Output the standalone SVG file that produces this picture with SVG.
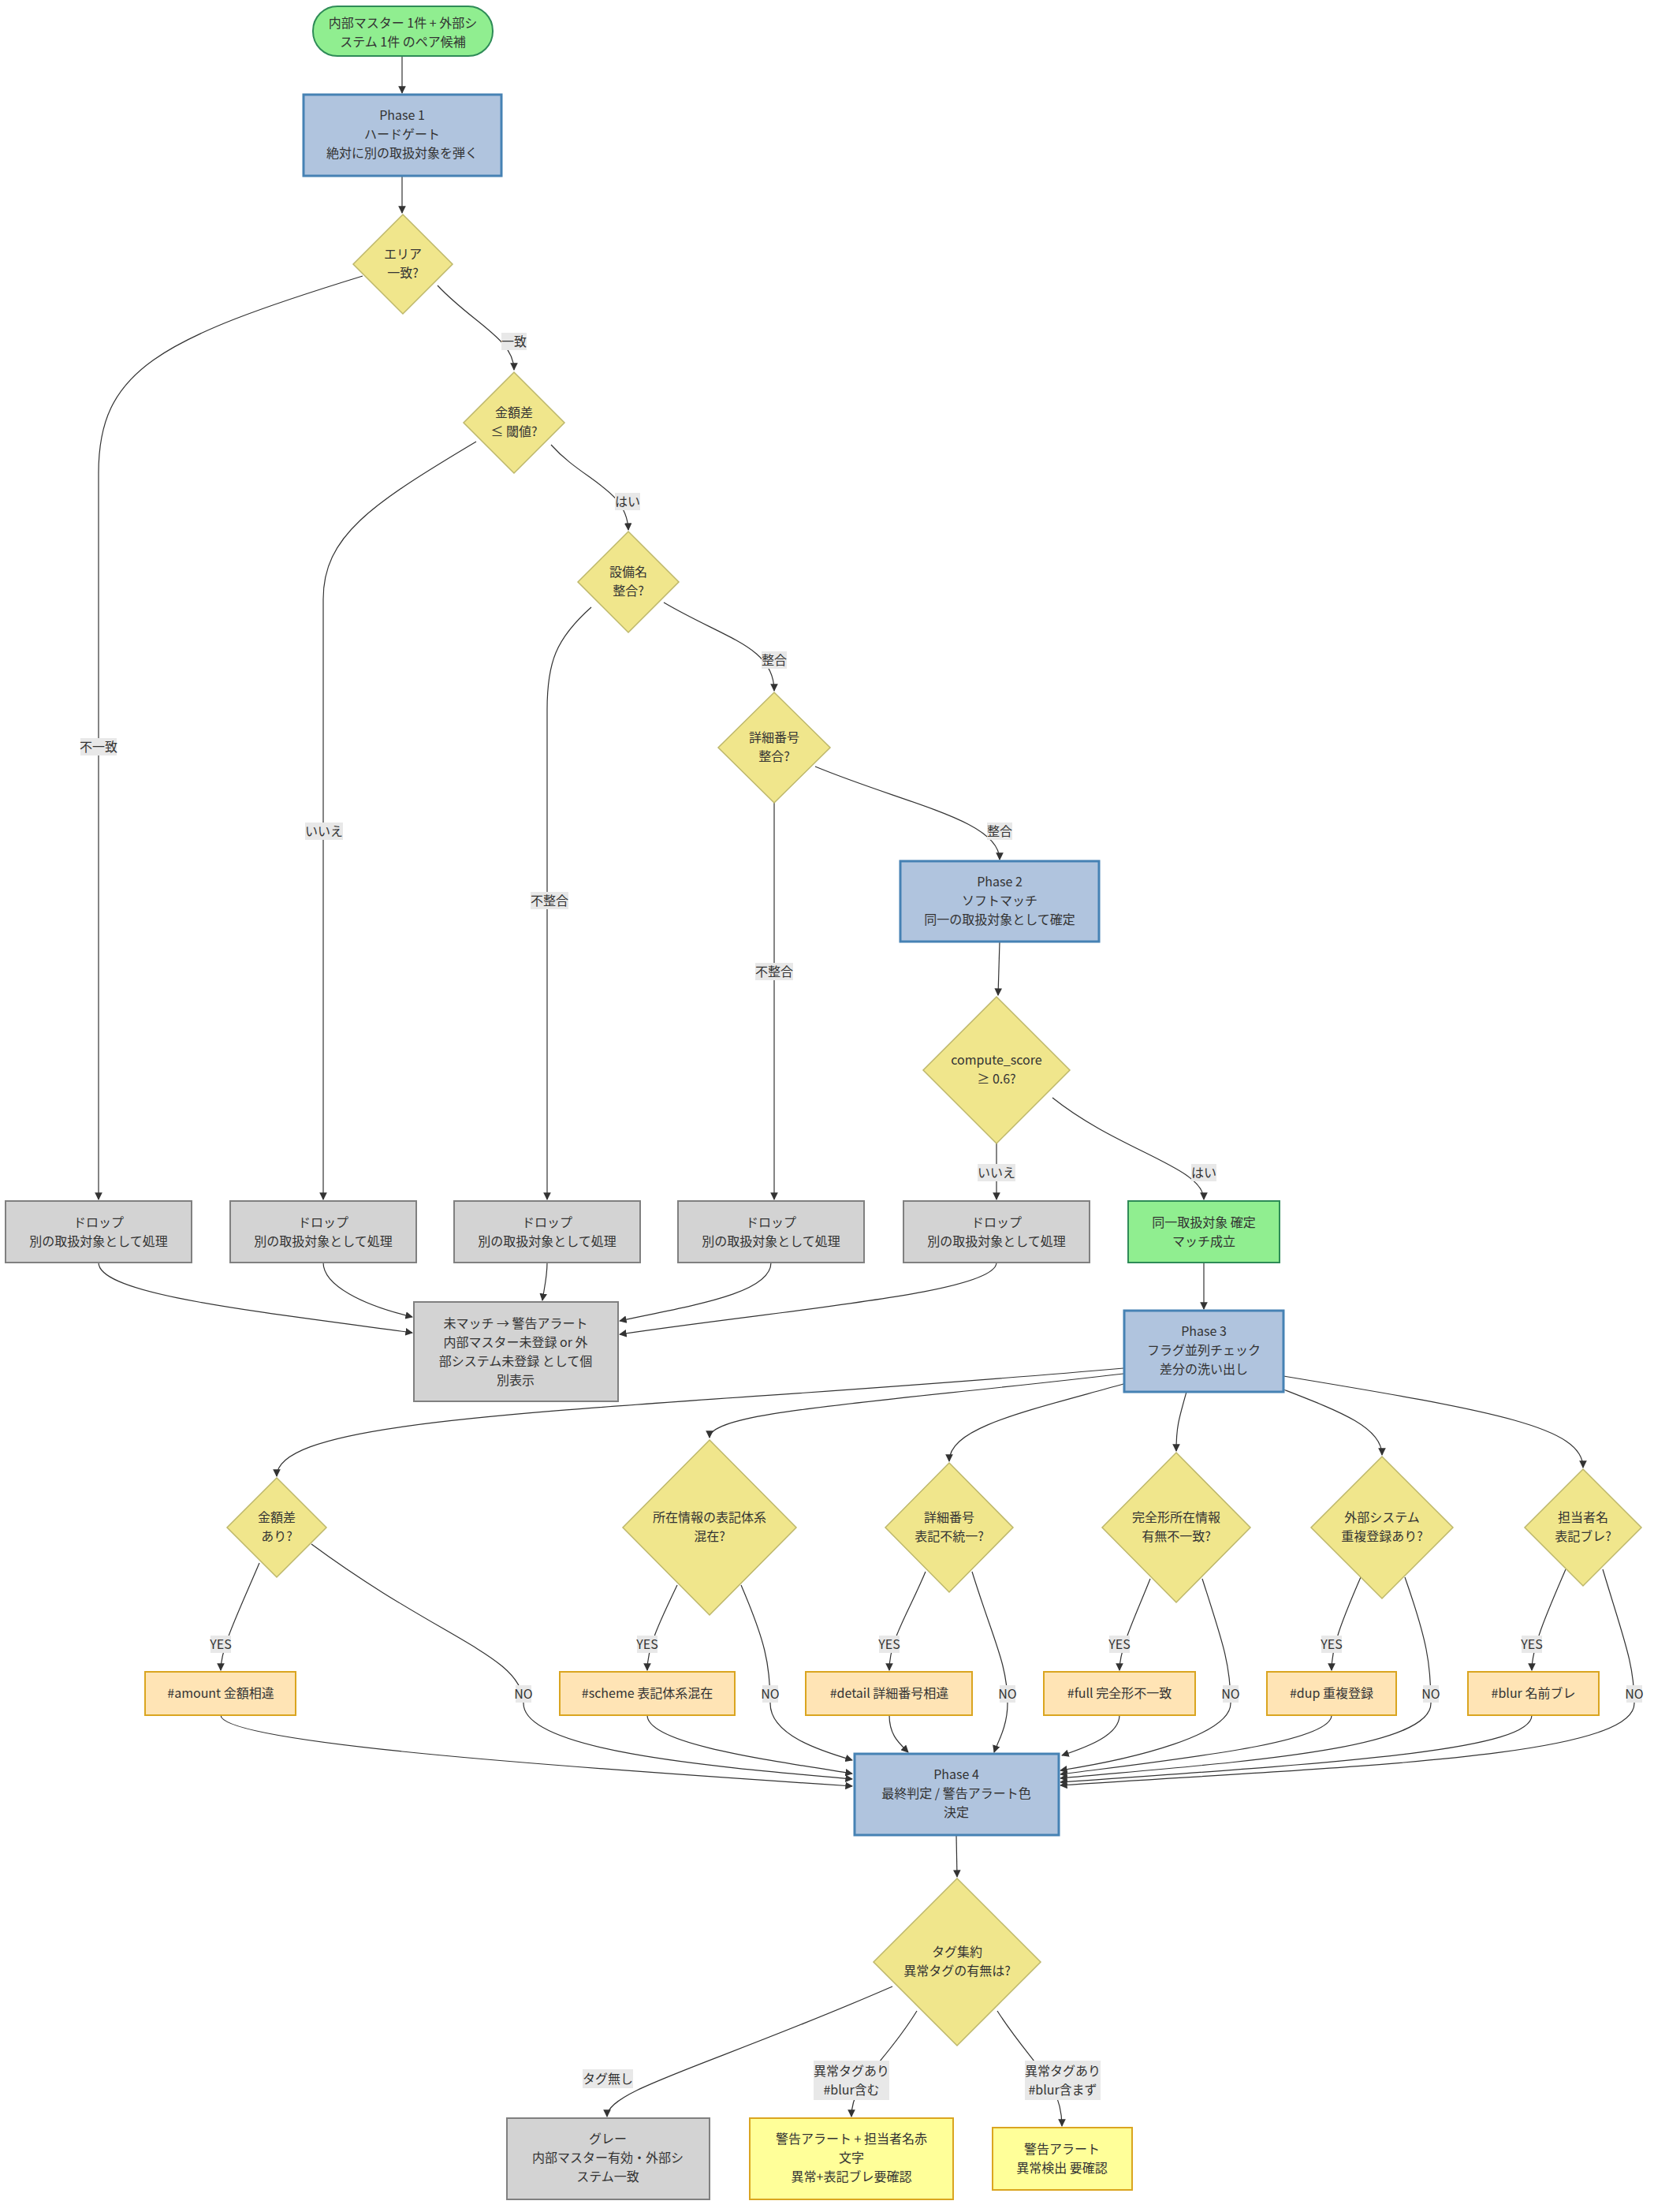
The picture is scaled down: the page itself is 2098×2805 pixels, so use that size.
<svg xmlns="http://www.w3.org/2000/svg" width="2098" height="2805" viewBox="0 0 2098 2805">
<defs>
<marker id="ah" viewBox="0 0 10 10" refX="9" refY="5" markerWidth="8" markerHeight="8" orient="auto-start-reverse"><path d="M0,0 L10,5 L0,10 z" fill="#333"/></marker>
<style>
text{font-family:"Noto Sans CJK JP","Noto Sans",sans-serif;font-size:16px;fill:#333;text-anchor:middle}
.blue{fill:#b0c4de;stroke:#4682b4;stroke-width:3}
.green{fill:#90ee90;stroke:#2e8b57;stroke-width:2}
.dia{fill:#f0e68c;stroke:#bdb76b;stroke-width:1.5}
.gray{fill:#d3d3d3;stroke:#808080;stroke-width:2}
.tag{fill:#ffe4b5;stroke:#daa520;stroke-width:2}
.yel{fill:#ffff99;stroke:#daa520;stroke-width:2}
.e{fill:none;stroke:#333;stroke-width:1.2;marker-end:url(#ah)}
.lb{fill:#e8e8e8}
</style>
</defs>
<g id="edges">
<path class="e" d="M510,72 L510,118"/>
<path class="e" d="M510,223 L510,270"/>
<path class="e" d="M460,350 C200,430 125,470 125,600 L125,1521"/>
<path class="e" d="M555,362 C600,410 652,430 652,469"/>
<path class="e" d="M604,560 C470,640 410,680 410,760 L410,1521"/>
<path class="e" d="M699,564 C740,610 795,620 797,672"/>
<path class="e" d="M750,770 C705,810 694,840 694,900 L694,1521"/>
<path class="e" d="M842,764 C920,810 982,820 982,876"/>
<path class="e" d="M982,1018 L982,1521"/>
<path class="e" d="M1034,972 C1150,1020 1268,1040 1268,1090"/>
<path class="e" d="M1268,1194 L1266,1262"/>
<path class="e" d="M1264,1450 L1264,1521"/>
<path class="e" d="M1335,1392 C1420,1460 1527,1480 1527,1521"/>
<path class="e" d="M125,1601 C125,1640 300,1660 523,1690"/>
<path class="e" d="M410,1601 C410,1630 460,1655 523,1670"/>
<path class="e" d="M694,1601 C694,1620 690,1635 688,1649"/>
<path class="e" d="M978,1601 C978,1640 880,1655 786,1675"/>
<path class="e" d="M1264,1601 C1264,1640 1000,1660 786,1692"/>
<path class="e" d="M1527,1601 L1527,1660"/>
<path class="e" d="M1425,1735 C800,1790 351,1790 351,1872"/>
<path class="e" d="M1425,1742 C1100,1780 900,1790 900,1823"/>
<path class="e" d="M1425,1755 C1300,1790 1204,1810 1204,1853"/>
<path class="e" d="M1505,1765 C1495,1800 1492,1810 1492,1840"/>
<path class="e" d="M1628,1762 C1700,1790 1753,1810 1753,1845"/>
<path class="e" d="M1628,1745 C1900,1790 2008,1810 2008,1861"/>
<path class="e" d="M329,1982 C300,2050 280,2090 280,2118"/>
<path class="e" d="M395,1958 C560,2080 664,2100 664,2160 C664,2220 900,2240 1081,2256"/>
<path class="e" d="M280,2175 C280,2210 700,2240 1081,2265"/>
<path class="e" d="M859,2010 C835,2060 821,2090 821,2118"/>
<path class="e" d="M940,2010 C970,2080 977,2110 977,2160 C977,2200 1040,2220 1081,2232"/>
<path class="e" d="M821,2175 C821,2210 960,2230 1081,2249"/>
<path class="e" d="M1174,1993 C1150,2050 1128,2080 1128,2118"/>
<path class="e" d="M1233,1993 C1260,2080 1278,2110 1278,2160 C1278,2190 1265,2210 1261,2222"/>
<path class="e" d="M1128,2175 C1128,2200 1140,2210 1152,2222"/>
<path class="e" d="M1459,2002 C1440,2050 1420,2090 1420,2118"/>
<path class="e" d="M1525,2002 C1550,2080 1561,2110 1561,2160 C1561,2200 1440,2230 1345,2245"/>
<path class="e" d="M1420,2175 C1420,2200 1380,2215 1347,2226"/>
<path class="e" d="M1726,2000 C1700,2060 1689,2090 1689,2118"/>
<path class="e" d="M1782,2000 C1810,2080 1815,2110 1815,2160 C1815,2220 1560,2235 1345,2255"/>
<path class="e" d="M1689,2175 C1689,2210 1500,2230 1345,2250"/>
<path class="e" d="M1986,1990 C1960,2050 1943,2090 1943,2118"/>
<path class="e" d="M2033,1990 C2060,2080 2073,2110 2073,2160 C2073,2230 1700,2240 1345,2264"/>
<path class="e" d="M1943,2175 C1943,2220 1700,2235 1345,2260"/>
<path class="e" d="M1213,2327 L1214,2380"/>
<path class="e" d="M1132,2519 C900,2620 770,2650 770,2684"/>
<path class="e" d="M1163,2550 C1120,2620 1080,2640 1080,2684"/>
<path class="e" d="M1265,2550 C1310,2620 1347,2640 1347,2696"/>
</g>
<g id="edge-labels">
<rect class="lb" x="102" y="936" width="46" height="22"/><text x="125" y="953">不一致</text>
<rect class="lb" x="636" y="422" width="32" height="22"/><text x="652" y="439">一致</text>
<rect class="lb" x="387" y="1043" width="48" height="22"/><text x="411" y="1060">いいえ</text>
<rect class="lb" x="780" y="625" width="32" height="22"/><text x="796" y="642">はい</text>
<rect class="lb" x="673" y="1131" width="48" height="22"/><text x="697" y="1148">不整合</text>
<rect class="lb" x="966" y="826" width="32" height="22"/><text x="982" y="843">整合</text>
<rect class="lb" x="958" y="1221" width="48" height="22"/><text x="982" y="1238">不整合</text>
<rect class="lb" x="1252" y="1043" width="32" height="22"/><text x="1268" y="1060">整合</text>
<rect class="lb" x="1240" y="1476" width="48" height="22"/><text x="1264" y="1493">いいえ</text>
<rect class="lb" x="1511" y="1476" width="32" height="22"/><text x="1527" y="1493">はい</text>
<rect class="lb" x="267" y="2074" width="26" height="22"/><text x="280" y="2091">YES</text>
<rect class="lb" x="808" y="2074" width="26" height="22"/><text x="821" y="2091">YES</text>
<rect class="lb" x="1115" y="2074" width="26" height="22"/><text x="1128" y="2091">YES</text>
<rect class="lb" x="1407" y="2074" width="26" height="22"/><text x="1420" y="2091">YES</text>
<rect class="lb" x="1676" y="2074" width="26" height="22"/><text x="1689" y="2091">YES</text>
<rect class="lb" x="1930" y="2074" width="26" height="22"/><text x="1943" y="2091">YES</text>
<rect class="lb" x="654" y="2137" width="20" height="22"/><text x="664" y="2154">NO</text>
<rect class="lb" x="967" y="2137" width="20" height="22"/><text x="977" y="2154">NO</text>
<rect class="lb" x="1268" y="2137" width="20" height="22"/><text x="1278" y="2154">NO</text>
<rect class="lb" x="1551" y="2137" width="20" height="22"/><text x="1561" y="2154">NO</text>
<rect class="lb" x="1805" y="2137" width="20" height="22"/><text x="1815" y="2154">NO</text>
<rect class="lb" x="2063" y="2137" width="20" height="22"/><text x="2073" y="2154">NO</text>
<rect class="lb" x="739" y="2624" width="64" height="24"/><text x="771" y="2642">タグ無し</text>
<rect class="lb" x="1032" y="2613" width="96" height="50"/><text x="1080" y="2632">異常タグあり</text><text x="1080" y="2656">#blur含む</text>
<rect class="lb" x="1300" y="2613" width="96" height="50"/><text x="1348" y="2632">異常タグあり</text><text x="1348" y="2656">#blur含まず</text>
</g>
<g id="start"><rect class="green" x="397" y="8" width="228" height="63" rx="31"/><text x="511" y="35">内部マスター 1件 + 外部シ</text><text x="511" y="59">ステム 1件 のペア候補</text></g>
<g id="phase1"><rect class="blue" x="385" y="120" width="251" height="103"/><text x="510" y="152">Phase 1</text><text x="510" y="176">ハードゲート</text><text x="510" y="200">絶対に別の取扱対象を弾く</text></g>
<g id="d_area"><polygon class="dia" points="511,272 574,335 511,398 448,335"/><text x="511" y="328">エリア</text><text x="511" y="352">一致?</text></g>
<g id="d_amount"><polygon class="dia" points="652,472 716,536 652,600 588,536"/><text x="652" y="529">金額差</text><text x="652" y="553">≤ 閾値?</text></g>
<g id="d_equip"><polygon class="dia" points="797,674 861,738 797,802 733,738"/><text x="797" y="731">設備名</text><text x="797" y="755">整合?</text></g>
<g id="d_detail"><polygon class="dia" points="982,878 1053,948 982,1018 911,948"/><text x="982" y="941">詳細番号</text><text x="982" y="965">整合?</text></g>
<g id="phase2"><rect class="blue" x="1142" y="1092" width="252" height="102"/><text x="1268" y="1124">Phase 2</text><text x="1268" y="1148">ソフトマッチ</text><text x="1268" y="1172">同一の取扱対象として確定</text></g>
<g id="d_score"><polygon class="dia" points="1264,1264 1357,1357 1264,1450 1171,1357"/><text x="1264" y="1350">compute_score</text><text x="1264" y="1374">≥ 0.6?</text></g>
<g id="drop1"><rect class="gray" x="7" y="1523" width="236" height="78"/><text x="125" y="1556">ドロップ</text><text x="125" y="1580">別の取扱対象として処理</text></g>
<g id="drop2"><rect class="gray" x="292" y="1523" width="236" height="78"/><text x="410" y="1556">ドロップ</text><text x="410" y="1580">別の取扱対象として処理</text></g>
<g id="drop3"><rect class="gray" x="576" y="1523" width="236" height="78"/><text x="694" y="1556">ドロップ</text><text x="694" y="1580">別の取扱対象として処理</text></g>
<g id="drop4"><rect class="gray" x="860" y="1523" width="236" height="78"/><text x="978" y="1556">ドロップ</text><text x="978" y="1580">別の取扱対象として処理</text></g>
<g id="drop5"><rect class="gray" x="1146" y="1523" width="236" height="78"/><text x="1264" y="1556">ドロップ</text><text x="1264" y="1580">別の取扱対象として処理</text></g>
<g id="matched"><rect class="green" x="1431" y="1523" width="192" height="78"/><text x="1527" y="1556">同一取扱対象 確定</text><text x="1527" y="1580">マッチ成立</text></g>
<g id="unmatched"><rect class="gray" x="525" y="1651" width="259" height="126"/><text x="654" y="1684">未マッチ → 警告アラート</text><text x="654" y="1708">内部マスター未登録 or 外</text><text x="654" y="1732">部システム未登録 として個</text><text x="654" y="1756">別表示</text></g>
<g id="phase3"><rect class="blue" x="1426" y="1662" width="202" height="103"/><text x="1527" y="1694">Phase 3</text><text x="1527" y="1718">フラグ並列チェック</text><text x="1527" y="1742">差分の洗い出し</text></g>
<g id="f_amount"><polygon class="dia" points="351,1874 414,1937 351,2000 288,1937"/><text x="351" y="1930">金額差</text><text x="351" y="1954">あり?</text></g>
<g id="f_scheme"><polygon class="dia" points="900,1826 1010,1937 900,2048 790,1937"/><text x="900" y="1930">所在情報の表記体系</text><text x="900" y="1954">混在?</text></g>
<g id="f_detail"><polygon class="dia" points="1204,1855 1285,1937 1204,2019 1123,1937"/><text x="1204" y="1930">詳細番号</text><text x="1204" y="1954">表記不統一?</text></g>
<g id="f_full"><polygon class="dia" points="1492,1842 1586,1937 1492,2032 1398,1937"/><text x="1492" y="1930">完全形所在情報</text><text x="1492" y="1954">有無不一致?</text></g>
<g id="f_dup"><polygon class="dia" points="1753,1847 1843,1937 1753,2027 1663,1937"/><text x="1753" y="1930">外部システム</text><text x="1753" y="1954">重複登録あり?</text></g>
<g id="f_blur"><polygon class="dia" points="2008,1863 2082,1937 2008,2011 1934,1937"/><text x="2008" y="1930">担当者名</text><text x="2008" y="1954">表記ブレ?</text></g>
<g id="t_amount"><rect class="tag" x="184" y="2120" width="191" height="55"/><text x="280" y="2153">#amount 金額相違</text></g>
<g id="t_scheme"><rect class="tag" x="710" y="2120" width="222" height="55"/><text x="821" y="2153">#scheme 表記体系混在</text></g>
<g id="t_detail"><rect class="tag" x="1022" y="2120" width="211" height="55"/><text x="1128" y="2153">#detail 詳細番号相違</text></g>
<g id="t_full"><rect class="tag" x="1324" y="2120" width="192" height="55"/><text x="1420" y="2153">#full 完全形不一致</text></g>
<g id="t_dup"><rect class="tag" x="1607" y="2120" width="164" height="55"/><text x="1689" y="2153">#dup 重複登録</text></g>
<g id="t_blur"><rect class="tag" x="1862" y="2120" width="166" height="55"/><text x="1945" y="2153">#blur 名前ブレ</text></g>
<g id="phase4"><rect class="blue" x="1084" y="2224" width="259" height="103"/><text x="1213" y="2256">Phase 4</text><text x="1213" y="2280">最終判定 / 警告アラート色</text><text x="1213" y="2304">決定</text></g>
<g id="d_tag"><polygon class="dia" points="1214,2382 1320,2488 1214,2594 1108,2488"/><text x="1214" y="2481">タグ集約</text><text x="1214" y="2505">異常タグの有無は?</text></g>
<g id="r_gray"><rect class="gray" x="643" y="2686" width="257" height="103"/><text x="771" y="2718">グレー</text><text x="771" y="2742">内部マスター有効・外部シ</text><text x="771" y="2766">ステム一致</text></g>
<g id="r_blur"><rect class="yel" x="951" y="2686" width="258" height="103"/><text x="1080" y="2718">警告アラート + 担当者名赤</text><text x="1080" y="2742">文字</text><text x="1080" y="2766">異常+表記ブレ要確認</text></g>
<g id="r_alert"><rect class="yel" x="1259" y="2698" width="177" height="79"/><text x="1347" y="2731">警告アラート</text><text x="1347" y="2755">異常検出 要確認</text></g>
</svg>
